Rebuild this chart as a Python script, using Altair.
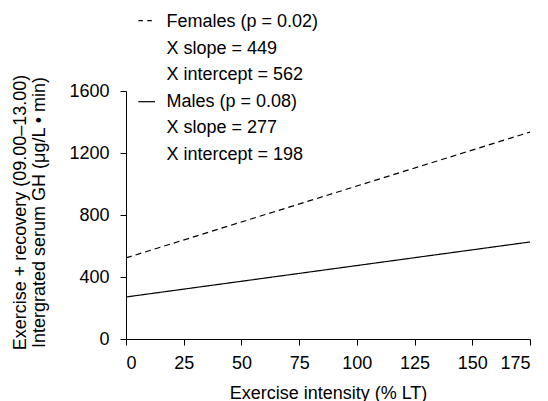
import altair as alt
import pandas as pd

# Data
sexes = ["Females", "Females", "Males", "Males"]
intensity = [0, 175, 0, 175]
gh = [523, 1335, 271, 626]

x_ticks = [0, 25, 50, 75, 100, 125, 150, 175]
y_ticks = [0, 400, 800, 1200, 1600]

legend_lines = [
    "Females (p = 0.02)",
    "X slope = 449",
    "X intercept = 562",
    "Males (p = 0.08)",
    "X slope = 277",
    "X intercept = 198",
]

y_title = ["Exercise + recovery (09.00\u201313.00)", "Intergrated serum GH (\u03bcg/L \u2022 min)"]
x_title = "Exercise intensity (% LT)"

df = pd.DataFrame({"sex": sexes, "x": intensity, "y": gh})

FONT = "Liberation Sans"
FS = 18

lines = alt.Chart(df).mark_line(color="black", strokeWidth=1.2).encode(
    x=alt.X(
        "x:Q",
        scale=alt.Scale(domain=[0, 175], nice=False, zero=False),
        axis=alt.Axis(
            values=x_ticks,
            format="d",
            title=x_title,
            tickSize=6,
            labelPadding=9,
            titleX=202,
            titleY=59,
            titleBaseline="alphabetic",
        ),
    ),
    y=alt.Y(
        "y:Q",
        scale=alt.Scale(domain=[0, 1600], nice=False),
        axis=alt.Axis(
            values=y_ticks,
            format="d",
            title=y_title,
            tickSize=6,
            labelPadding=11,
            titleAngle=270,
            titleX=-101,
            titleY=121,
            titleAlign="center",
            titleBaseline="alphabetic",
            titleLineHeight=19,
        ),
    ),
    strokeDash=alt.StrokeDash(
        "sex:N",
        scale=alt.Scale(domain=["Females", "Males"], range=[[6, 4], [1, 0]]),
        legend=None,
    ),
    detail="sex:N",
)

legend_text = alt.Chart(pd.DataFrame({"a": [0]})).mark_text(
    text=legend_lines,
    align="left",
    baseline="alphabetic",
    lineHeight=26.5,
    font=FONT,
    fontSize=FS,
    color="black",
).encode(x=alt.value(40.5), y=alt.value(-63.7))

dash_sym = alt.Chart(pd.DataFrame({"a": [0]})).mark_rule(
    color="black", strokeWidth=1.2, strokeDash=[4.5, 4.5]
).encode(x=alt.value(12.3), x2=alt.value(25.8), y=alt.value(-70.3))

solid_sym = alt.Chart(pd.DataFrame({"a": [0]})).mark_rule(
    color="black", strokeWidth=1.2
).encode(x=alt.value(12.3), x2=alt.value(29), y=alt.value(10.7))

chart = (
    alt.layer(lines, legend_text, dash_sym, solid_sym)
    .properties(
        width=404,
        height=248,
        autosize=alt.AutoSizeParams(type="none"),
        padding={"left": 126, "top": 91, "right": 18, "bottom": 62},
        background="white",
    )
    .configure_view(stroke=None)
    .configure_axis(
        grid=False,
        domainColor="black",
        domainWidth=1,
        tickColor="black",
        tickWidth=1,
        labelColor="black",
        titleColor="black",
        labelFont=FONT,
        titleFont=FONT,
        labelFontSize=FS,
        titleFontSize=FS,
        titleFontWeight="normal",
    )
)

chart.save("out.html", embed_options={"renderer": "svg", "actions": False})
